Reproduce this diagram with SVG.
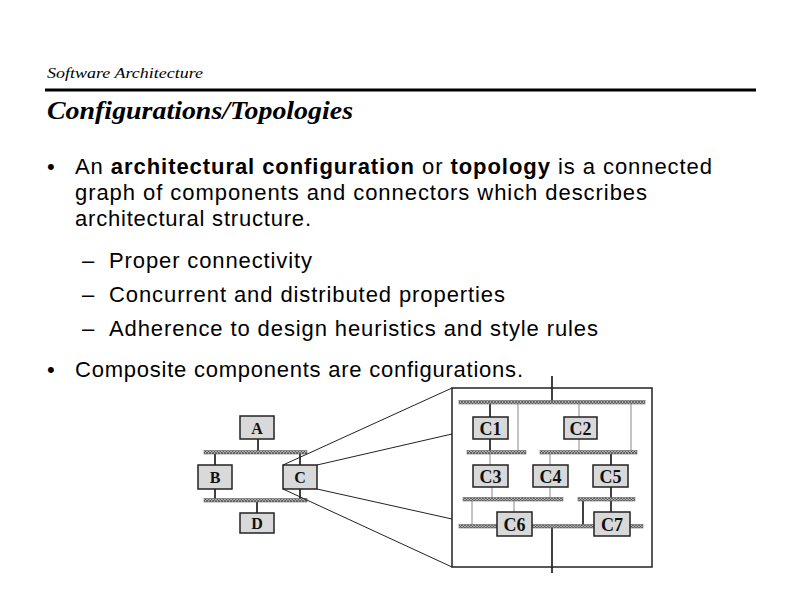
<svg xmlns="http://www.w3.org/2000/svg" width="792" height="612" viewBox="0 0 792 612">
<defs>
<pattern id="hatch" width="3" height="3" patternUnits="userSpaceOnUse">
<rect width="3" height="3" fill="#b0b0b0"/>
<path d="M0,3 L3,0 M0,0 L3,3" stroke="#555" stroke-width="0.8"/>
</pattern>
</defs>
<style>
.hdr{font-family:"Liberation Serif","Times New Roman",serif;font-style:italic;fill:#000}
.body{font-family:"Liberation Sans",Arial,sans-serif;font-size:22px;fill:#000}
.b{font-weight:bold}
.box{fill:#d9d9d9;stroke:#222;stroke-width:1.5}
.lbl{font-family:"Liberation Serif","Times New Roman",serif;font-weight:bold;font-size:16px;fill:#111;text-anchor:middle}
.lbl2{font-size:18px}
.bar{fill:url(#hatch);stroke:#666;stroke-width:0.6}
.dk{stroke:#111;stroke-width:1.6;fill:none}
.lt{stroke:#888;stroke-width:1;fill:none}
.fan{stroke:#222;stroke-width:1;fill:none}
</style>
<rect width="792" height="612" fill="#fff"/>
<text class="hdr" x="47" y="78" font-size="15.5" textLength="156" lengthAdjust="spacingAndGlyphs">Software Architecture</text>
<line x1="45" y1="90" x2="756" y2="90" stroke="#000" stroke-width="3"/>
<text class="hdr" x="47" y="119" font-size="25" font-weight="bold" textLength="306" lengthAdjust="spacingAndGlyphs">Configurations/Topologies</text>
<text class="body" x="47" y="174">•</text>
<text class="body" x="75" y="174" textLength="637">An <tspan class="b">architectural configuration</tspan> or <tspan class="b">topology</tspan> is a connected</text>
<text class="body" x="75" y="200" textLength="572">graph of components and connectors which describes</text>
<text class="body" x="75" y="226" textLength="236">architectural structure.</text>
<text class="body" x="82" y="268">–</text>
<text class="body" x="109" y="268" textLength="203">Proper connectivity</text>
<text class="body" x="82" y="302">–</text>
<text class="body" x="109" y="302" textLength="396">Concurrent and distributed properties</text>
<text class="body" x="82" y="336">–</text>
<text class="body" x="109" y="336" textLength="489">Adherence to design heuristics and style rules</text>
<text class="body" x="47" y="377">•</text>
<text class="body" x="75" y="377" textLength="448">Composite components are configurations.</text>

<g id="connectors">
<line class="dk" x1="258" y1="439" x2="258" y2="451"/>
<line class="dk" x1="215" y1="454" x2="215" y2="465"/>
<line class="dk" x1="300" y1="454" x2="300" y2="465"/>
<line class="dk" x1="215" y1="489" x2="215" y2="499"/>
<line class="dk" x1="300" y1="489" x2="300" y2="499"/>
<line class="dk" x1="257" y1="502" x2="257" y2="513"/>
<rect class="bar" x="204" y="450.5" width="103" height="3.5"/>
<rect class="bar" x="204" y="498.5" width="103" height="3.5"/>
<line class="fan" x1="283" y1="465" x2="452" y2="388"/>
<line class="fan" x1="317" y1="465" x2="452" y2="434"/>
<line class="fan" x1="317" y1="489" x2="452" y2="519"/>
<line class="fan" x1="283" y1="489" x2="452" y2="567"/>
<line class="dk" x1="552" y1="376" x2="552" y2="401"/>
<line class="dk" x1="552" y1="528" x2="552" y2="573"/>
<line class="dk" x1="490" y1="404" x2="490" y2="417"/>
<line class="dk" x1="490" y1="439" x2="490" y2="451"/>
<line class="lt" x1="518" y1="404" x2="518" y2="451"/>
<line class="lt" x1="579" y1="404" x2="579" y2="417"/>
<line class="lt" x1="579" y1="439" x2="579" y2="451"/>
<line class="lt" x1="631" y1="404" x2="631" y2="451"/>
<line class="lt" x1="490" y1="454" x2="490" y2="465"/>
<line class="lt" x1="550" y1="454" x2="550" y2="465"/>
<line class="dk" x1="611" y1="454" x2="611" y2="465"/>
<line class="lt" x1="492" y1="487" x2="492" y2="498"/>
<line class="lt" x1="550" y1="487" x2="550" y2="498"/>
<line class="dk" x1="611" y1="487" x2="611" y2="498"/>
<line class="lt" x1="514" y1="501" x2="514" y2="512"/>
<line class="dk" x1="611" y1="501" x2="611" y2="512"/>
<line class="lt" x1="472" y1="501" x2="472" y2="525"/>
<line class="dk" x1="583" y1="501" x2="583" y2="525"/>
<line class="dk" x1="516" y1="536" x2="516" y2="525"/>
<line class="dk" x1="611" y1="536" x2="611" y2="525"/>
<rect class="bar" x="459" y="400.5" width="186" height="3.5"/>
<rect class="bar" x="467" y="450.5" width="59" height="3.5"/>
<rect class="bar" x="540" y="450.5" width="97" height="3.5"/>
<rect class="bar" x="463" y="497.5" width="100" height="3.5"/>
<rect class="bar" x="578" y="497.5" width="57" height="3.5"/>
<rect class="bar" x="459" y="524.5" width="184" height="3.5"/>
</g>

<g id="composite"><rect x="452" y="388" width="200" height="179" fill="none" stroke="#222" stroke-width="1.5"/></g>

<g id="A"><rect class="box" x="240" y="416" width="34" height="23"/><text class="lbl" x="257" y="433.5">A</text></g>
<g id="B"><rect class="box" x="198" y="465" width="34" height="24"/><text class="lbl" x="215" y="482.5">B</text></g>
<g id="C"><rect class="box" x="283" y="465" width="34" height="24"/><text class="lbl" x="300" y="482.5">C</text></g>
<g id="D"><rect class="box" x="240" y="513" width="34" height="20"/><text class="lbl" x="257" y="529">D</text></g>

<g id="C1"><rect class="box" x="473" y="417" width="35" height="22"/><text class="lbl lbl2" x="490.5" y="434.5">C1</text></g>
<g id="C2"><rect class="box" x="564" y="417" width="33" height="22"/><text class="lbl lbl2" x="580.5" y="434.5">C2</text></g>
<g id="C3"><rect class="box" x="473" y="465" width="35" height="22"/><text class="lbl lbl2" x="490.5" y="482.5">C3</text></g>
<g id="C4"><rect class="box" x="533" y="465" width="35" height="22"/><text class="lbl lbl2" x="550.5" y="482.5">C4</text></g>
<g id="C5"><rect class="box" x="593" y="465" width="35" height="22"/><text class="lbl lbl2" x="610.5" y="482.5">C5</text></g>
<g id="C6"><rect class="box" x="497" y="512" width="35" height="24"/><text class="lbl lbl2" x="514.5" y="530.5">C6</text></g>
<g id="C7"><rect class="box" x="594" y="512" width="36" height="24"/><text class="lbl lbl2" x="612" y="530.5">C7</text></g>
</svg>
